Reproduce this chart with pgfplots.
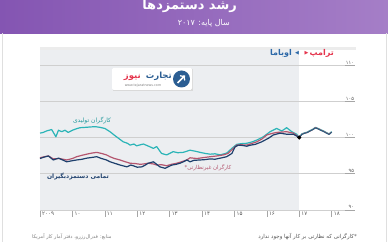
\documentclass[border=0pt]{standalone}
\usepackage{pgfplots}
\pgfplotsset{compat=1.18}
\usepackage{fontspec}
\setmainfont{DejaVu Sans}
\newfontfamily\ar[Script=Arabic]{DejaVu Sans}
\newfontfamily\sym{DejaVu Sans}
\TeXXeTstate=1
\definecolor{tealc}{HTML}{2BB4B7}
\definecolor{navyc}{HTML}{1D3F6C}
\definecolor{mauvec}{HTML}{B4566F}
\definecolor{shadec}{HTML}{ECEEF1}
\definecolor{gridc}{HTML}{CFCFCF}
\definecolor{trumpc}{HTML}{E5354D}
\definecolor{obamac}{HTML}{2C68A8}
\definecolor{bannerL}{HTML}{8455B2}
\definecolor{bannerR}{HTML}{A57EC7}
\definecolor{logob}{HTML}{2B5E93}
\definecolor{textg}{HTML}{555555}
\begin{document}
\begin{tikzpicture}[x=1pt,y=1pt]
% background and banner
\fill[white] (0,0) rectangle (388,242);
\shade[left color=bannerL, right color=bannerR] (0,208.5) rectangle (388,242);
\draw[gray!25, line width=0.8pt] (2,0) -- (2,208.5);
\draw[gray!25, line width=0.8pt] (386,0) -- (386,208.5);
% shaded Obama era
\fill[shadec] (40,32) rectangle (299.2,192);
\draw[gray!15, line width=2.5pt] (40,193.5) -- (356,193.5);
\begin{axis}[
  at={(40pt,32pt)}, anchor=south west,
  scale only axis, width=315pt, height=160pt,
  xmin=2009, xmax=2018.72, ymin=90, ymax=112.07,
  axis x line*=bottom, axis y line=none,
  x axis line style={draw=gridc, line width=0.8pt, -},
  xtick={2009,2010,2011,2012,2013,2014,2015,2016,2017,2018},
  xticklabels={},
  tick align=outside, major tick length=7pt,
  xtick style={draw=gray!70, line width=0.6pt},
  clip=false,
]
% grid lines
\pgfplotsinvokeforeach{95,100,105,110}{
  \draw[gridc, line width=0.7pt] (axis cs:2009,#1) -- (axis cs:2018.72,#1);
  \draw[gray!70, line width=0.7pt] (axis cs:2018.4,#1) -- (axis cs:2018.72,#1);
}
\draw[gray!70, line width=0.7pt] (axis cs:2018.4,90) -- (axis cs:2018.72,90);
% y labels
\node[anchor=south east, inner sep=0.8pt, text=textg] at (axis cs:2018.72,110) {\fontsize{5}{6}\selectfont\ar ۱۱۰};
\node[anchor=south east, inner sep=0.8pt, text=textg] at (axis cs:2018.72,105) {\fontsize{5}{6}\selectfont\ar ۱۰۵};
\node[anchor=south east, inner sep=0.8pt, text=textg] at (axis cs:2018.72,100) {\fontsize{5}{6}\selectfont\ar ۱۰۰};
\node[anchor=south east, inner sep=0.8pt, text=textg] at (axis cs:2018.72,95) {\fontsize{5}{6}\selectfont\ar ۹۵};
\node[anchor=south east, inner sep=0.8pt, text=textg] at (axis cs:2018.72,90) {\fontsize{5}{6}\selectfont\ar ۹۰};
% x labels
\node[anchor=west, inner sep=0pt, text=textg] at (axis cs:2009.06,89.45) {\fontsize{5.5}{6}\selectfont\ar ۲۰۰۹};
\node[anchor=west, inner sep=0pt, text=textg] at (axis cs:2010.06,89.45) {\fontsize{5.5}{6}\selectfont\ar ۱۰};
\node[anchor=west, inner sep=0pt, text=textg] at (axis cs:2011.06,89.45) {\fontsize{5.5}{6}\selectfont\ar ۱۱};
\node[anchor=west, inner sep=0pt, text=textg] at (axis cs:2012.06,89.45) {\fontsize{5.5}{6}\selectfont\ar ۱۲};
\node[anchor=west, inner sep=0pt, text=textg] at (axis cs:2013.06,89.45) {\fontsize{5.5}{6}\selectfont\ar ۱۳};
\node[anchor=west, inner sep=0pt, text=textg] at (axis cs:2014.06,89.45) {\fontsize{5.5}{6}\selectfont\ar ۱۴};
\node[anchor=west, inner sep=0pt, text=textg] at (axis cs:2015.06,89.45) {\fontsize{5.5}{6}\selectfont\ar ۱۵};
\node[anchor=west, inner sep=0pt, text=textg] at (axis cs:2016.06,89.45) {\fontsize{5.5}{6}\selectfont\ar ۱۶};
\node[anchor=west, inner sep=0pt, text=textg] at (axis cs:2017.06,89.45) {\fontsize{5.5}{6}\selectfont\ar ۱۷};
\node[anchor=west, inner sep=0pt, text=textg] at (axis cs:2018.06,89.45) {\fontsize{5.5}{6}\selectfont\ar ۱۸};
% production workers
\addplot[tealc, line width=1.2pt, line join=round] coordinates {
(2009.00,100.6) (2009.10,100.7) (2009.20,100.9) (2009.36,101.1) (2009.49,100.1)
(2009.57,101.0) (2009.67,100.8) (2009.77,101.0) (2009.87,100.7) (2010.00,101.0)
(2010.12,101.2) (2010.23,101.35) (2010.40,101.4) (2010.55,101.45) (2010.70,101.5)
(2010.85,101.4) (2011.00,101.25) (2011.16,100.8) (2011.30,100.3) (2011.42,99.9)
(2011.57,99.4) (2011.70,99.2) (2011.78,98.95) (2011.90,99.1) (2011.98,98.85)
(2012.10,99.0) (2012.19,99.1) (2012.35,98.8) (2012.50,98.5) (2012.60,98.75)
(2012.75,97.8) (2012.91,97.6) (2013.00,97.8) (2013.11,98.05) (2013.25,97.9)
(2013.42,97.95) (2013.63,98.25) (2013.80,98.1) (2013.94,97.95) (2014.10,97.8)
(2014.25,97.7) (2014.40,97.75) (2014.56,97.6) (2014.76,97.85) (2014.92,98.5)
(2015.07,99.05) (2015.20,99.15) (2015.38,99.2) (2015.55,99.4) (2015.69,99.65)
(2015.89,100.1) (2016.10,100.8) (2016.30,101.25) (2016.46,100.9) (2016.61,101.35)
(2016.77,100.8) (2016.92,100.45) (2017.00,100.0)
(2017.08,100.5) (2017.17,100.65) (2017.25,100.75) (2017.33,100.95) (2017.42,101.15)
(2017.50,101.4) (2017.58,101.25) (2017.67,101.05) (2017.75,100.9) (2017.83,100.7)
(2017.92,100.5) (2018.00,100.8)
};
% non-supervisory workers
\addplot[mauvec, line width=1.2pt, line join=round] coordinates {
(2009.00,97.2) (2009.13,97.35) (2009.26,97.45) (2009.41,97.05) (2009.60,97.1)
(2009.82,96.9) (2010.00,97.1) (2010.13,97.35) (2010.30,97.55) (2010.44,97.7)
(2010.60,97.85) (2010.75,97.95) (2010.90,97.8) (2011.05,97.6) (2011.16,97.35)
(2011.30,97.1) (2011.47,96.9) (2011.60,96.7) (2011.78,96.45) (2011.95,96.4)
(2012.09,96.3) (2012.20,96.35) (2012.34,96.45) (2012.50,96.35) (2012.60,96.2)
(2012.75,96.25) (2012.91,96.1) (2013.05,96.3) (2013.22,96.45) (2013.40,96.7)
(2013.53,96.9) (2013.63,97.2) (2013.84,97.1) (2014.00,97.2) (2014.25,97.35)
(2014.45,97.45) (2014.66,97.6) (2014.80,97.8) (2014.92,98.3) (2015.07,98.95)
(2015.20,99.0) (2015.38,98.95) (2015.55,99.2) (2015.69,99.4) (2015.85,99.8)
(2016.00,100.35) (2016.15,100.55) (2016.30,100.7) (2016.45,100.75) (2016.61,100.8)
(2016.82,100.6) (2017.00,100.0)
(2017.08,100.45) (2017.17,100.6) (2017.25,100.7) (2017.33,100.9) (2017.42,101.1)
(2017.50,101.35) (2017.58,101.2) (2017.67,101.0) (2017.75,100.85) (2017.83,100.65)
(2017.92,100.45) (2018.00,100.75)
};
% all employees
\addplot[navyc, line width=1.2pt, line join=round] coordinates {
(2009.00,97.1) (2009.13,97.3) (2009.26,97.45) (2009.41,96.9) (2009.57,97.15)
(2009.70,96.9) (2009.82,96.65) (2010.00,96.8) (2010.13,96.9) (2010.30,97.0)
(2010.44,97.15) (2010.60,97.25) (2010.75,97.35) (2010.90,97.1) (2011.05,96.9)
(2011.16,96.65) (2011.30,96.45) (2011.47,96.2) (2011.60,96.05) (2011.68,95.95)
(2011.80,96.2) (2011.88,96.1) (2012.00,95.9) (2012.14,95.95) (2012.25,96.2)
(2012.34,96.45) (2012.50,96.65) (2012.60,96.3) (2012.70,95.95) (2012.86,95.75)
(2012.95,95.95) (2013.07,96.2) (2013.20,96.3) (2013.32,96.45) (2013.45,96.7)
(2013.53,96.9) (2013.63,96.65) (2013.75,96.85) (2013.94,96.9) (2014.10,96.95)
(2014.25,97.05) (2014.40,97.0) (2014.56,97.15) (2014.76,97.35) (2014.92,97.8)
(2015.02,98.7) (2015.12,98.95) (2015.25,98.9) (2015.38,98.8) (2015.50,98.95)
(2015.64,99.05) (2015.84,99.4) (2016.05,99.9) (2016.20,100.35) (2016.41,100.6)
(2016.61,100.45) (2016.82,100.45) (2017.00,100.0)
};
\addplot[navyc!70!tealc, line width=0.9pt, line join=round] coordinates {
(2017.00,100.0) (2017.08,100.42) (2017.17,100.58) (2017.25,100.68) (2017.33,100.88)
(2017.42,101.08) (2017.50,101.32) (2017.58,101.18) (2017.67,100.98) (2017.75,100.82)
(2017.83,100.62) (2017.92,100.42) (2018.00,100.72)
};
\addplot[only marks, mark=*, mark size=1.8pt, black] coordinates {(2017,100)};
\end{axis}
% legend
\node[anchor=base east, inner sep=0pt, text=trumpc] at (334,186) {\fontsize{8}{9}\selectfont\ar\bfseries\beginR ترامپ\endR};
\node[inner sep=0pt, text=trumpc] at (306.5,188.8) {\fontsize{5}{6}\selectfont\sym ▶};
\node[inner sep=0pt, text=obamac] at (297,188.8) {\fontsize{5}{6}\selectfont\sym ◀};
\node[anchor=base east, inner sep=0pt, text=obamac] at (292,186) {\fontsize{8}{9}\selectfont\ar\bfseries\beginR اوباما\endR};
% titles
\node[anchor=base east, inner sep=0pt, text=white] at (237,232) {\fontsize{13}{14}\selectfont\ar\bfseries\beginR رشد دستمزدها\endR};
\node[anchor=base east, inner sep=0pt, text=white] at (230,216.5) {\fontsize{8}{9}\selectfont\ar\beginR سال پایه: ۲۰۱۷\endR};
% logo
\fill[gray!30] (112.8,151.3) rectangle (192.8,173.3);
\fill[white, rounded corners=1.5pt] (112,152) rectangle (192,174);
\fill[logob] (181.5,163) circle (8.5);
\draw[white, line width=1.6pt, ->] (177.5,159) -- (185,166.5);
\node[anchor=base east, inner sep=0pt, text=logob] at (172,163.5) {\fontsize{8.5}{9}\selectfont\ar\bfseries\beginR تجارت\endR};
\node[anchor=base east, inner sep=0pt, text=trumpc] at (141,163.5) {\fontsize{8.5}{9}\selectfont\ar\bfseries\beginR نیوز\endR};
\node[anchor=base, inner sep=0pt, text=gray] at (143,155.5) {\fontsize{3.3}{4}\selectfont www.tejaratnews.com};
% series labels
\node[inner sep=0pt, text=tealc!85!black] at (92,121) {\fontsize{6}{7}\selectfont\ar\beginR کارگران تولیدی\endR};
\node[inner sep=0pt, text=navyc] at (78,65) {\fontsize{6}{7}\selectfont\ar\bfseries\beginR تمامی دستمزدبگیران\endR};
\node[inner sep=0pt, text=mauvec] at (208,74) {\fontsize{5.5}{6}\selectfont\ar\beginR کارگران غیرنظارتی\kern0pt*\endR};
% notes
\node[anchor=base east, inner sep=0pt, text=textg] at (357,3.5) {\fontsize{5.5}{6}\selectfont\ar\beginR *\kern0pt کارگرانی که نظارتی بر کار آنها وجود ندارد\endR};
\node[anchor=base west, inner sep=0pt, text=gray] at (32,3.5) {\fontsize{5}{6}\selectfont\ar\beginR منابع: فدرال‌رزرو، دفتر آمار کار آمریکا\endR};
\end{tikzpicture}
\end{document}
